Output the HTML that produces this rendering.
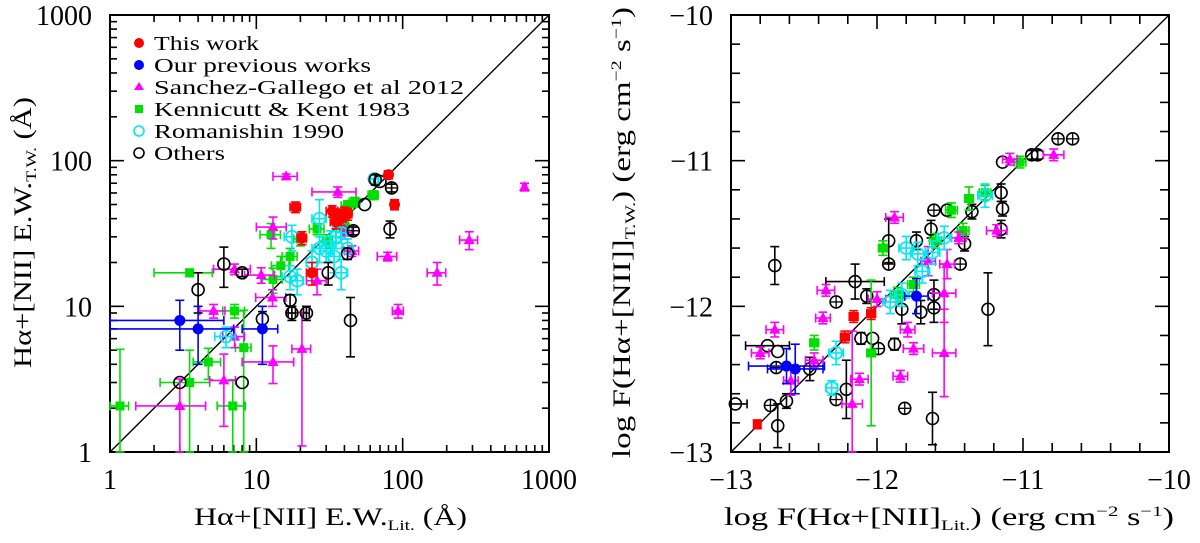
<!DOCTYPE html>
<html><head><meta charset="utf-8"><style>
html,body{margin:0;padding:0;background:#fff;}
svg text{font-family:"Liberation Serif",serif;fill:#000;}
</style></head><body>
<svg id="chart" width="1200" height="538" viewBox="0 0 1200 538" xmlns="http://www.w3.org/2000/svg">
<g id="left"></g>
<g id="right"></g>
</svg>
<script>
// ===== Left panel data (E.W., Angstrom) =====
const ewRedX=[18.5,20.5,24,33,36,38,40,42,35,80,88];
const ewRedY=[48,29.5,17,45,42,40,44,43,38,80,50];
const ewRedXE=[1.5,1.5,2,3,3,3,3,3,3,5,5];
const ewRedYE=[4,3,3,4,4,4,4,4,4,5,4];
const ewBlueX=[3,4,11];
const ewBlueY=[8,7,7];
const ewBlueXE=[3,3,3];
const ewBlueYE=[3,3,3];
const ewMagX=[16,36,13,680,285,79,172,93,7.1,10.8,5.1,7.1,13,20.5,6,3,12.9,26,45,40];
const ewMagY=[78,61,35,66,28.5,22,17,9.3,18,16.4,9.3,6.2,4.15,5.1,3.1,2.07,11.5,15,24,32];
const ewMagXE=[3,12,3,20,40,12,25,8,2,2.5,1,1.2,5,3,1.2,1.5,3,4,5,5];
const ewMagYE=[3,5,6,4,4,1.5,3,1,1.5,2,1,1,1.2,4,1.6,1.1,1.5,3,2,3];
const ewGrnX=[3.5,12.6,7.1,4.7,8.2,3.5,1.17,6.9,13,14.7,26,42,47,63,40,17,20,30];
const ewGrnY=[17,31,9.3,4.15,5.2,3,2.07,2.07,15.3,19,34,49,52,58,35,22,29,28];
const ewGrnXE=[1.5,2,1.2,1,1,1.3,0.17,1.5,2,2,3,4,4,5,3,2,2,3];
const ewGrnYE=[1,6,1,1,4.2,2,3,1.07,3,3,3,4,4,4,3,3,3,3];
const ewCyanX=[17.5,27,32,38,34,17,19,6.2,64,38,42,27,24,30,35];
const ewCyanY=[30,40,28,17,22,16,15,6.2,75,32,25,25,20,24,30];
const ewCyanXE=[2,3,3,4,3,2,2,1,4,3,3,3,2,3,3];
const ewCyanYE=[6,14,5,4,5,3,3,1,5,5,4,5,4,4,5];
const ewBlkX=[6,4,8,11,3,8,17,17.5,22,44,82,42,46,65,70,84,55,31];
const ewBlkY=[19.5,13,17,8.2,3,3,11,9,9,8,34,23,33,74,72,65,50,17];
const ewBlkXE=[0,0,0,0,0,0,0,1,1,0,0,0,0,0,0,0,0,0];
const ewBlkYE=[6,4,1,1,0,0,1,1,1,3.5,4.5,2,2,6,0,4,0,3];
const ewBlkCross=[0,0,0,0,0,0,0,1,0,0,0,0,1,0,0,1,0,0];

// ===== Right panel data (log flux) =====
const fxRedX=[-12.82,-12.22,-12.16,-12.04];
const fxRedY=[-12.81,-12.21,-12.07,-12.05];
const fxRedXE=[0.02,0.03,0.03,0.03];
const fxRedYE=[0.03,0.04,0.04,0.04];
const fxBlueX=[-12.62,-12.56,-11.73];
const fxBlueY=[-12.41,-12.43,-11.93];
const fxBlueXE=[0.26,0.19,0.08];
const fxBlueYE=[0.12,0.17,0.12];
const fxMagX=[-11.09,-10.79,-11.88,-12.35,-12.37,-12.70,-12.80,-12.59,-12.43,-12.12,-12.17,-11.84,-11.79,-11.75,-11.54,-11.54,-11.52,-11.44,-11.18,-12.0,-11.65];
const fxMagY=[-10.99,-10.96,-11.39,-11.89,-12.08,-12.16,-12.32,-12.51,-12.37,-12.50,-12.67,-12.48,-12.16,-12.29,-12.32,-11.91,-11.71,-11.53,-11.48,-11.95,-11.69];
const fxMagXE=[0.05,0.07,0.06,0.06,0.05,0.06,0.06,0.05,0.06,0.06,0.07,0.05,0.05,0.07,0.08,0.08,0.05,0.05,0.07,0.06,0.05];
const fxMagYE=[0.04,0.04,0.04,0.04,0.04,0.05,0.04,0.1,0.05,0.04,0.5,0.04,0.05,0.04,0.3,0.2,0.1,0.04,0.04,0.05,0.1];
const fxGrnX=[-11.37,-11.49,-11.96,-12.04,-12.43,-11.26,-11.02,-11.41,-11.6,-11.75,-11.86];
const fxGrnY=[-11.26,-11.34,-11.60,-12.32,-12.25,-11.22,-11.01,-11.48,-11.55,-11.85,-11.92];
const fxGrnXE=[0.03,0.04,0.03,0.03,0.03,0.04,0.04,0.04,0.04,0.04,0.04];
const fxGrnYE=[0.08,0.05,0.05,0.5,0.05,0.05,0.04,0.05,0.05,0.05,0.05];
const fxCyanX=[-12.31,-12.28,-11.80,-11.72,-11.62,-11.91,-11.83,-11.26,-11.54,-11.69];
const fxCyanY=[-12.56,-12.32,-11.60,-11.64,-11.63,-11.97,-11.92,-11.24,-11.53,-11.76];
const fxCyanXE=[0.04,0.05,0.05,0.05,0.05,0.05,0.05,0.05,0.05,0.05];
const fxCyanYE=[0.05,0.08,0.08,0.08,0.08,0.08,0.08,0.08,0.08,0.08];
const fxBlkX=[-12.97,-12.73,-12.68,-12.62,-12.75,-12.68,-12.70,-12.69,-12.46,-12.28,-12.15,-12.21,-12.28,-12.11,-12.03,-11.99,-11.88,-11.81,-11.62,-11.24,-12.07,-11.92,-11.92,-11.73,-11.61,-11.52,-11.43,-11.40,-11.15,-11.14,-11.15,-11.14,-10.94,-10.90,-10.76,-10.66,-11.61,-11.61,-11.70,-11.83,-11.35,-11.63];
const fxBlkY=[-12.67,-12.68,-12.82,-12.65,-12.27,-12.31,-11.72,-12.42,-12.43,-11.97,-11.83,-12.57,-12.64,-12.22,-12.22,-12.29,-12.26,-12.70,-12.77,-12.02,-11.93,-11.71,-11.55,-11.55,-11.34,-11.34,-11.71,-11.57,-11.22,-11.33,-11.47,-11.01,-10.96,-10.96,-10.85,-10.85,-11.92,-12.01,-12.04,-12.02,-11.35,-11.47];
const fxBlkXE=[0.08,0,0,0,0.15,0,0,0,0,0,0.2,0,0,0,0,0,0,0,0,0,0,0,0,0,0,0,0,0,0,0,0,0,0,0,0,0,0,0,0,0,0,0];
const fxBlkYE=[0,0,0.15,0.05,0,0,0.13,0,0.08,0,0.12,0.2,0,0.04,0,0,0.04,0,0.18,0.25,0.05,0,0.15,0.06,0,0,0,0.05,0.06,0.05,0.06,0,0.03,0.03,0,0,0.1,0.1,0.08,0.1,0.05,0.06];
const fxBlkCross=[0,1,0,0,0,0,0,1,0,1,0,0,1,0,0,1,0,1,0,0,0,1,0,0,1,0,1,0,0,0,0,0,0,0,1,1,0,0,0,0,0,0];

const NS="http://www.w3.org/2000/svg";
function mk(tag,attrs,parent){const e=document.createElementNS(NS,tag);for(const k in attrs)e.setAttribute(k,attrs[k]);parent.appendChild(e);return e;}

const L={x0:110,x1:549,y0:15,y1:452};
const R={x0:731,x1:1169,y0:15,y1:452};
const lx=v=>L.x0+(L.x1-L.x0)*Math.log10(Math.max(v,1))/3;
const ly=v=>L.y1-(L.y1-L.y0)*Math.log10(Math.max(v,1))/3;
const rx=v=>R.x0+(R.x1-R.x0)*(Math.min(Math.max(v,-13),-10)+13)/3;
const ry=v=>R.y1-(R.y1-R.y0)*(Math.min(Math.max(v,-13),-10)+13)/3;

function drawFrame(g,P){
  const r=mk('rect',{x:P.x0,y:P.y0,width:P.x1-P.x0,height:P.y1-P.y0,fill:'none',stroke:'#000','stroke-width':2},g);
  
  
}
function tick(g,x1,y1,x2,y2){mk('line',{x1,y1,x2,y2,stroke:'#000','stroke-width':1.6},g);}

function drawPoints(g,sx,sy,X,Y,XE,YE,color,shape,cross,name,logAxis){
  const grp=mk('g',{},g);
  
  
  for(let i=0;i<X.length;i++){
    const px=sx(X[i]),py=sy(Y[i]);
    const xe=XE[i]||0,ye=YE[i]||0;
    const lo=v=>logAxis?Math.max(v,1):v;
    const c=4.5;
    if(xe>0){const a=sx(lo(X[i]-xe)),b=sx(X[i]+xe);
      mk('line',{x1:a,y1:py,x2:b,y2:py,stroke:color,'stroke-width':1.6},grp);
      mk('line',{x1:a,y1:py-c,x2:a,y2:py+c,stroke:color,'stroke-width':1.6},grp);
      mk('line',{x1:b,y1:py-c,x2:b,y2:py+c,stroke:color,'stroke-width':1.6},grp);}
    if(ye>0){const a=sy(lo(Y[i]-ye)),b=sy(Y[i]+ye);
      mk('line',{x1:px,y1:a,x2:px,y2:b,stroke:color,'stroke-width':1.6},grp);
      mk('line',{x1:px-c,y1:a,x2:px+c,y2:a,stroke:color,'stroke-width':1.6},grp);
      mk('line',{x1:px-c,y1:b,x2:px+c,y2:b,stroke:color,'stroke-width':1.6},grp);}
    let m;
    if(shape==='fc') m=mk('circle',{cx:px,cy:py,r:5.5,fill:color},grp);
    else if(shape==='oc') m=mk('circle',{cx:px,cy:py,r:6,fill:'none',stroke:color,'stroke-width':1.6},grp);
    else if(shape==='sq') m=mk('rect',{x:px-4.5,y:py-4.5,width:9,height:9,fill:color},grp);
    else m=mk('polygon',{points:`${px},${py-6} ${px-5.5},${py+4} ${px+5.5},${py+4}`,fill:color},grp);
    
    
    if(cross&&cross[i]){mk('line',{x1:px-6,y1:py,x2:px+6,y2:py,stroke:color,'stroke-width':1.3},grp);mk('line',{x1:px,y1:py-6,x2:px,y2:py+6,stroke:color,'stroke-width':1.3},grp);}
  }
}

function txt(g,x,y,s,size,anchor,name){const t=mk('text',{x,y,'font-size':size,'text-anchor':anchor||'start'},g);t.textContent=s;return t;}

// ---------- LEFT ----------
const gl=document.getElementById('left');
drawFrame(gl,L);
for(let d=0;d<3;d++)for(let m=1;m<=9;m++){
  const v=Math.pow(10,d)*m; if(m===1&&d===0)continue;
  const len=m===1?14:7;
  tick(gl,lx(v),L.y1,lx(v),L.y1-len);tick(gl,lx(v),L.y0,lx(v),L.y0+len);
  tick(gl,L.x0,ly(v),L.x0+len,ly(v));tick(gl,L.x1,ly(v),L.x1-len,ly(v));
}
const ewTicks=[1,10,100,1000];
const ewTickLabels=['1','10','100','1000'];
ewTicks.forEach((v,i)=>{
  txt(gl,lx(v),489,ewTickLabels[i],28,'middle','x-tick-label');
  txt(gl,92,ly(v)+10,ewTickLabels[i],28,'end','y-tick-label');
});
mk('line',{x1:lx(1),y1:ly(1),x2:lx(1000),y2:ly(1000),stroke:'#000','stroke-width':1.4},gl);
drawPoints(gl,lx,ly,ewGrnX,ewGrnY,ewGrnXE,ewGrnYE,'#00e000','sq',null,'kennicutt-series',true);
drawPoints(gl,lx,ly,ewMagX,ewMagY,ewMagXE,ewMagYE,'#ff00ff','tri',null,'sanchez-series',true);
drawPoints(gl,lx,ly,ewCyanX,ewCyanY,ewCyanXE,ewCyanYE,'#00e8f0','oc',null,'romanishin-series',true);
drawPoints(gl,lx,ly,ewBlkX,ewBlkY,ewBlkXE,ewBlkYE,'#000','oc',ewBlkCross,'others-series',true);
drawPoints(gl,lx,ly,ewBlueX,ewBlueY,ewBlueXE,ewBlueYE,'#0000ff','fc',null,'previous-works-series',true);
drawPoints(gl,lx,ly,ewRedX,ewRedY,ewRedXE,ewRedYE,'#ff0000','fc',null,'this-work-series',true);
const lg=mk('g',{},gl);


const legLabels=['This work','Our previous works','Sanchez-Gallego et al 2012','Kennicutt & Kent 1983','Romanishin 1990','Others'];
const legW=[105,217,310,256,190,71];
const legCol=['#ff0000','#0000ff','#ff00ff','#00e000','#00e8f0','#000'];
const legShape=['fc','fc','tri','sq','oc','oc'];
legLabels.forEach((s,i)=>{
  const y=43+i*22;
  if(legShape[i]==='fc')mk('circle',{cx:139,cy:y,r:5,fill:legCol[i]},lg);
  else if(legShape[i]==='oc')mk('circle',{cx:139,cy:y,r:5,fill:'none',stroke:legCol[i],'stroke-width':1.6},lg);
  else if(legShape[i]==='sq')mk('rect',{x:135,y:y-4,width:8,height:8,fill:legCol[i]},lg);
  else mk('polygon',{points:`139,${y-5} 134,${y+3} 144,${y+3}`,fill:legCol[i]},lg);
  const t=txt(lg,154,y+7,s,20,'start','legend-entry');
  t.setAttribute('textLength',legW[i]);t.setAttribute('lengthAdjust','spacingAndGlyphs');
});
const xt=mk('text',{x:194,y:525,'font-size':25,textLength:273,lengthAdjust:'spacingAndGlyphs'},gl);

xt.innerHTML='Hα+[NII] E.W.<tspan font-size="15" dy="5">Lit.</tspan><tspan dy="-5">   (Å)</tspan>';
const yt=mk('text',{x:0,y:0,'font-size':25,transform:'translate(31,368) rotate(-90)',textLength:271,lengthAdjust:'spacingAndGlyphs'},gl);

yt.innerHTML='Hα+[NII] E.W.<tspan font-size="15" dy="5">T.W.</tspan><tspan dy="-5">   (Å)</tspan>';

// ---------- RIGHT ----------
const gr=document.getElementById('right');
drawFrame(gr,R);
for(let k=1;k<15;k++){
  const v=-13+k*0.2; const len=(k%5===0)?14:9;
  tick(gr,rx(v),R.y1,rx(v),R.y1-len);tick(gr,rx(v),R.y0,rx(v),R.y0+len);
  tick(gr,R.x0,ry(v),R.x0+len,ry(v));tick(gr,R.x1,ry(v),R.x1-len,ry(v));
}
const fxTicks=[-13,-12,-11,-10];
const fxTickLabels=['−13','−12','−11','−10'];
fxTicks.forEach((v,i)=>{
  txt(gr,rx(v),489,fxTickLabels[i],28,'middle','x-tick-label');
  txt(gr,713,ry(v)+10,fxTickLabels[i],28,'end','y-tick-label');
});
mk('line',{x1:rx(-13),y1:ry(-13),x2:rx(-10),y2:ry(-10),stroke:'#000','stroke-width':1.4},gr);
drawPoints(gr,rx,ry,fxBlkX,fxBlkY,fxBlkXE,fxBlkYE,'#000','oc',fxBlkCross,'others-series',false);
drawPoints(gr,rx,ry,fxGrnX,fxGrnY,fxGrnXE,fxGrnYE,'#00e000','sq',null,'kennicutt-series',false);
drawPoints(gr,rx,ry,fxMagX,fxMagY,fxMagXE,fxMagYE,'#ff00ff','tri',null,'sanchez-series',false);
drawPoints(gr,rx,ry,fxCyanX,fxCyanY,fxCyanXE,fxCyanYE,'#00e8f0','oc',null,'romanishin-series',false);
drawPoints(gr,rx,ry,fxBlueX,fxBlueY,fxBlueXE,fxBlueYE,'#0000ff','fc',null,'previous-works-series',false);
drawPoints(gr,rx,ry,fxRedX,fxRedY,fxRedXE,fxRedYE,'#ff0000','sq',null,'this-work-series',false);
const rxt=mk('text',{x:724,y:525,'font-size':25,textLength:450,lengthAdjust:'spacingAndGlyphs'},gr);

rxt.innerHTML='log  F(Hα+[NII]<tspan font-size="15" dy="5">Lit.</tspan><tspan dy="-5">)   (erg cm</tspan><tspan font-size="15" dy="-9">−2</tspan><tspan dy="9"> s</tspan><tspan font-size="15" dy="-9">−1</tspan><tspan dy="9">)</tspan>';
const ryt=mk('text',{x:0,y:0,'font-size':25,transform:'translate(630,458) rotate(-90)',textLength:451,lengthAdjust:'spacingAndGlyphs'},gr);

ryt.innerHTML='log  F(Hα+[NII]]<tspan font-size="15" dy="5">T.W.</tspan><tspan dy="-5">)   (erg cm</tspan><tspan font-size="15" dy="-9">−2</tspan><tspan dy="9"> s</tspan><tspan font-size="15" dy="-9">−1</tspan><tspan dy="9">)</tspan>';
</script>
</body></html>
